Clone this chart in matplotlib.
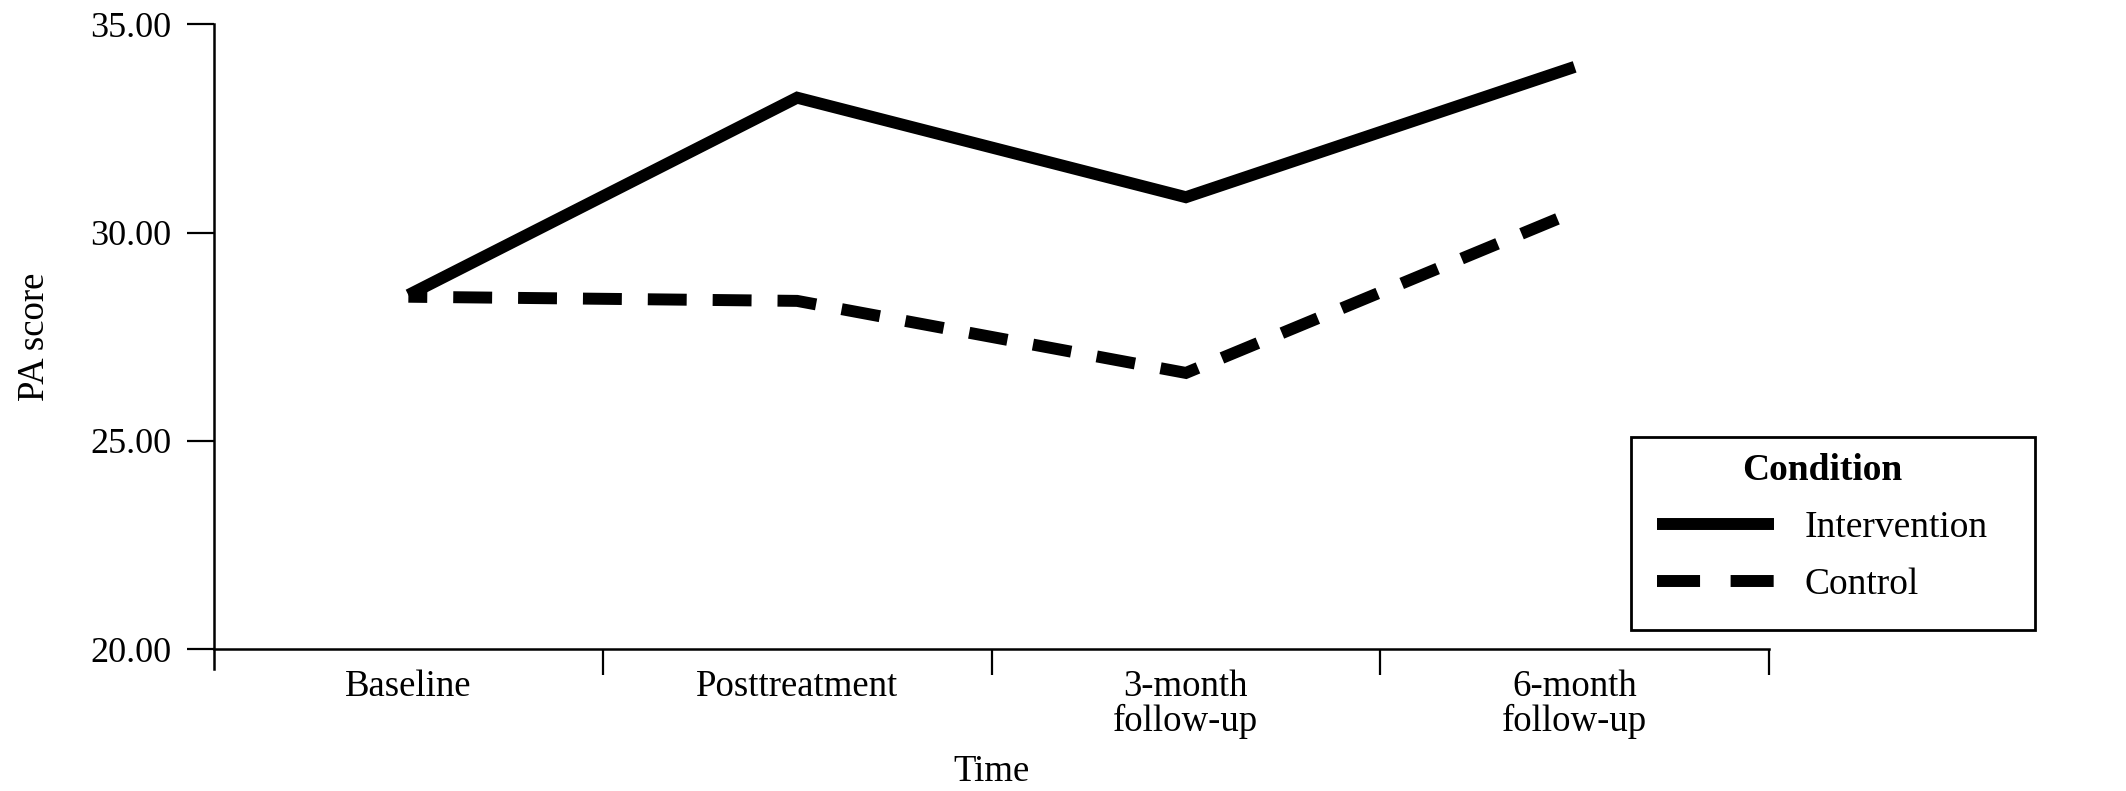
import matplotlib
matplotlib.use("Agg")
import matplotlib.pyplot as plt
from matplotlib.patches import Rectangle
from matplotlib.lines import Line2D

categories = ["Baseline", "Posttreatment", "3-month\nfollow-up", "6-month\nfollow-up"]
intervention = [28.50, 33.24, 30.85, 33.98]
control = [28.46, 28.36, 26.63, 30.50]
yticks = [20.0, 25.0, 30.0, 35.0]
series_names = ["Intervention", "Control"]

plt.rcParams['font.family'] = ['Liberation Serif', 'DejaVu Serif']
plt.rcParams['lines.scale_dashes'] = False
FS = 26
FSX = 26.5
FSL = 27

W, H = 2126, 791
fig = plt.figure(figsize=(W / 100, H / 100), dpi=100)
ax = fig.add_axes([214 / W, 1 - 649 / H, (1769 - 214) / W, (649 - 24.4) / H])

LW = 8.6
x = list(range(len(categories)))
ax.plot(x, intervention, color='black', lw=LW, solid_joinstyle='miter',
        solid_capstyle='butt')
ax.plot(x, control, color='black', lw=LW, linestyle=(14.4, (28, 18.7)),
        dash_capstyle='butt', dash_joinstyle='miter')

ax.set_xlim(-0.5, len(categories) - 0.5)
ax.set_ylim(20, 35)
ax.set_yticks(yticks)
ax.set_yticklabels([f"{v:.2f}" for v in yticks], fontsize=FS)
ax.tick_params(axis='y', length=19.5, width=1.6, pad=11, colors='black')

ax.set_xticks(x)
ax.set_xticklabels(categories, fontsize=FSX, linespacing=1.0)
ax.set_xticks([i - 0.5 for i in range(1, len(categories) + 1)], minor=True)
ax.tick_params(axis='x', which='major', length=0, pad=15)
ax.tick_params(axis='x', which='minor', length=19, width=1.6)

for s in ['top', 'right']:
    ax.spines[s].set_visible(False)
for s in ['left', 'bottom']:
    ax.spines[s].set_linewidth(1.8)
ax.spines['left'].set_bounds(20 - 20 / 624.6 * 15, 35)

ax.set_xlabel("Time", fontsize=FSX)
ax.xaxis.set_label_coords(0.5, -0.197)
ax.xaxis.label.set_va('center')
ax.set_ylabel("PA score", fontsize=FSX)
ax.yaxis.set_label_coords(-0.115, 0.5)
ax.yaxis.label.set_va('center')

handles = [Line2D([], [], color='black', lw=LW, solid_capstyle='butt'),
           Line2D([], [], color='black', lw=LW, linestyle=(0, (31, 22)),
                  dash_capstyle='butt')]
leg = fig.legend(handles, series_names, loc='upper left',
                 bbox_to_anchor=(1631 / W, 1 - 427 / H),
                 frameon=False, fontsize=FSL, title='Condition',
                 title_fontproperties={'weight': 'bold', 'size': FSL},
                 handlelength=3.12, handletextpad=0.8, labelspacing=0.6,
                 borderpad=0.2)
fig.patches.append(Rectangle((1631 / W, 1 - 630 / H), (2035 - 1631) / W,
                             (630 - 437) / H, transform=fig.transFigure,
                             fill=False, edgecolor='black', lw=2))

fig.savefig("out.png", dpi=100)
